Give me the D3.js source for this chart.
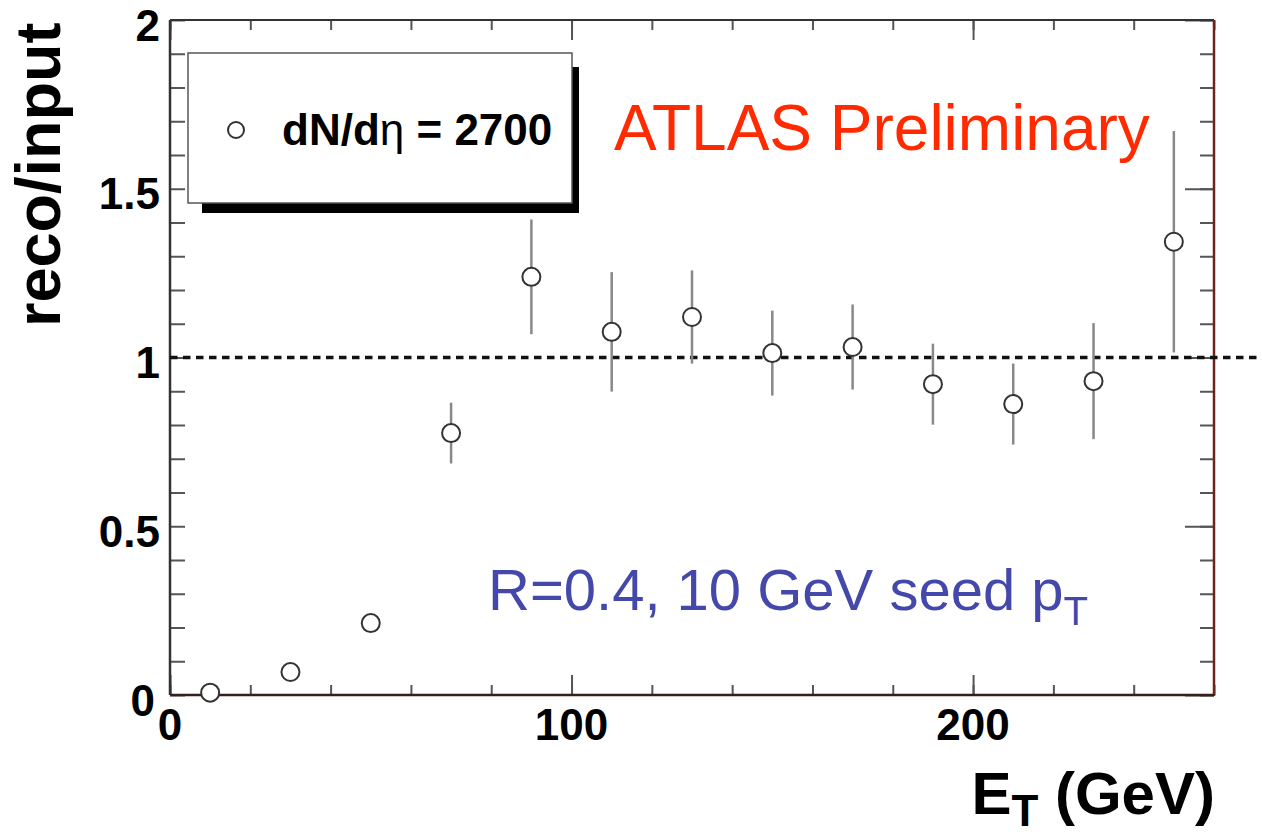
<!DOCTYPE html>
<html>
<head>
<meta charset="utf-8">
<script src="https://cdn.jsdelivr.net/npm/d3@7/dist/d3.min.js"></script>
<style>
  html, body { margin: 0; padding: 0; background: #fff; }
  svg { display: block; }
  text { font-family: "Liberation Sans", Arial, Helvetica, sans-serif; }
</style>
</head>
<body>
<svg id="chart" width="1262" height="839"></svg>
<script>
// Jet reconstruction ratio vs transverse energy, bins of 20 GeV
const binCenters = [10, 30, 50, 70, 90, 110, 130, 150, 170, 190, 210, 230, 250];
const ratio      = [0.007, 0.068, 0.213, 0.776, 1.239, 1.076, 1.12, 1.013, 1.031, 0.921, 0.862, 0.93, 1.343];
const ratioErr   = [0.01, 0.012, 0.015, 0.09, 0.17, 0.177, 0.138, 0.126, 0.126, 0.12, 0.12, 0.172, 0.328];

const xTickLabels = [0, 100, 200];
const yTickLabels = [0, 0.5, 1, 1.5, 2];
const referenceLevel = 1;

const svg = d3.select("#chart");
const L = 170, R = 1214, T = 20, B = 695;

const x = d3.scaleLinear().domain([0, 260]).range([L, R]);
const y = d3.scaleLinear().domain([0, 2]).range([B, T]);

const xMinor = d3.range(0, 261, 20);
const xMajor = [0, 100, 200];
const yMinor = d3.range(0, 2.001, 0.1).map(v => +v.toFixed(2));
const yMajor = [0, 0.5, 1, 1.5, 2];

function tickStyle(g) {
  g.select(".domain").remove();
  g.selectAll(".tick line").attr("stroke", "#555").attr("stroke-width", 2);
}

// bottom axis ticks (inward)
svg.append("g").attr("transform", `translate(0,${B})`)
  .call(d3.axisTop(x).tickValues(xMinor).tickSize(10).tickFormat(""))
  .call(tickStyle);
svg.append("g").attr("transform", `translate(0,${B})`)
  .call(d3.axisTop(x).tickValues(xMajor).tickSize(20).tickFormat(""))
  .call(tickStyle);
// top axis ticks
svg.append("g").attr("transform", `translate(0,${T})`)
  .call(d3.axisBottom(x).tickValues(xMinor).tickSize(10).tickFormat(""))
  .call(tickStyle);
svg.append("g").attr("transform", `translate(0,${T})`)
  .call(d3.axisBottom(x).tickValues(xMajor).tickSize(20).tickFormat(""))
  .call(tickStyle);
// left axis ticks
svg.append("g").attr("transform", `translate(${L},0)`)
  .call(d3.axisRight(y).tickValues(yMinor).tickSize(15).tickFormat(""))
  .call(tickStyle);
// right axis ticks
svg.append("g").attr("transform", `translate(${R},0)`)
  .call(d3.axisLeft(y).tickValues(yMinor).tickSize(14).tickFormat(""))
  .call(tickStyle);
svg.append("g").attr("transform", `translate(${R},0)`)
  .call(d3.axisLeft(y).tickValues(yMajor).tickSize(29).tickFormat(""))
  .call(tickStyle);

// frame
svg.append("line").attr("x1", L).attr("x2", R).attr("y1", T).attr("y2", T)
  .attr("stroke", "#333").attr("stroke-width", 2);
svg.append("line").attr("x1", L).attr("x2", L).attr("y1", T).attr("y2", B)
  .attr("stroke", "#333").attr("stroke-width", 2.5);
svg.append("line").attr("x1", R).attr("x2", R).attr("y1", T).attr("y2", B + 1)
  .attr("stroke", "#6e2418").attr("stroke-width", 2.5);
svg.append("line").attr("x1", L).attr("x2", R).attr("y1", B).attr("y2", B)
  .attr("stroke", "#3a1c1c").attr("stroke-width", 2.5);

// reference line at ratio = 1
svg.append("line")
  .attr("x1", x(0)).attr("x2", 1262)
  .attr("y1", y(referenceLevel)).attr("y2", y(referenceLevel))
  .attr("stroke", "#111").attr("stroke-width", 3.5)
  .attr("stroke-dasharray", "7.5,5.5");

// tick labels
svg.append("g").selectAll("text").data(xTickLabels).join("text")
  .attr("x", d => x(d)).attr("y", 724)
  .attr("text-anchor", "middle").attr("dominant-baseline", "central")
  .attr("font-size", 44).attr("font-weight", "bold").attr("fill", "#000")
  .text(d => d);
svg.append("g").selectAll("text").data(yTickLabels).join("text")
  .attr("x", d => d === 0 ? 155 : 160).attr("y", d => y(d) + 5)
  .attr("text-anchor", "end").attr("dominant-baseline", "central")
  .attr("font-size", 44).attr("font-weight", "bold").attr("fill", "#000")
  .text(d => d);

// axis titles
svg.append("text")
  .attr("transform", "translate(60,327) rotate(-90)")
  .attr("font-size", 63).attr("font-weight", "bold").attr("fill", "#000")
  .text("reco/input");
const xt = svg.append("text")
  .attr("x", 1215).attr("y", 814).attr("text-anchor", "end")
  .attr("font-size", 60).attr("font-weight", "bold").attr("fill", "#000");
xt.append("tspan").text("E");
xt.append("tspan").attr("font-size", 44).attr("dy", 12).text("T");
xt.append("tspan").attr("dy", -12).text(" (GeV)");

// error bars
svg.append("g").selectAll("line").data(binCenters).join("line")
  .attr("x1", d => x(d)).attr("x2", d => x(d))
  .attr("y1", (d, i) => y(ratio[i] + ratioErr[i]))
  .attr("y2", (d, i) => y(ratio[i] - ratioErr[i]))
  .attr("stroke", "#888").attr("stroke-width", 2.5);

// markers
svg.append("g").selectAll("circle").data(binCenters).join("circle")
  .attr("cx", d => x(d)).attr("cy", (d, i) => y(ratio[i]))
  .attr("r", 9).attr("fill", "#fff").attr("stroke", "#333").attr("stroke-width", 2);

// legend box with shadow
svg.append("rect").attr("x", 202).attr("y", 67).attr("width", 377).attr("height", 146)
  .attr("fill", "#000");
svg.append("rect").attr("x", 188).attr("y", 53).attr("width", 384).attr("height", 150)
  .attr("fill", "#fff").attr("stroke", "#555").attr("stroke-width", 1.5);
svg.append("circle").attr("cx", 236).attr("cy", 130).attr("r", 8)
  .attr("fill", "#fff").attr("stroke", "#333").attr("stroke-width", 2);
const lg = svg.append("text").attr("x", 282).attr("y", 145)
  .attr("font-size", 44).attr("font-weight", "bold").attr("fill", "#000");
lg.append("tspan").text("dN/d");
lg.append("tspan").attr("font-weight", "normal").text("η");
lg.append("tspan").text(" = 2700");

// annotations
svg.append("text").attr("x", 614).attr("y", 150)
  .attr("font-size", 64).attr("fill", "#ff2a00")
  .text("ATLAS Preliminary");
const ann = svg.append("text").attr("x", 488).attr("y", 610)
  .attr("font-size", 58).attr("fill", "#4448aa");
ann.append("tspan").text("R=0.4, 10 GeV seed p");
ann.append("tspan").attr("font-size", 40).attr("dy", 15).text("T");
</script>
</body>
</html>
